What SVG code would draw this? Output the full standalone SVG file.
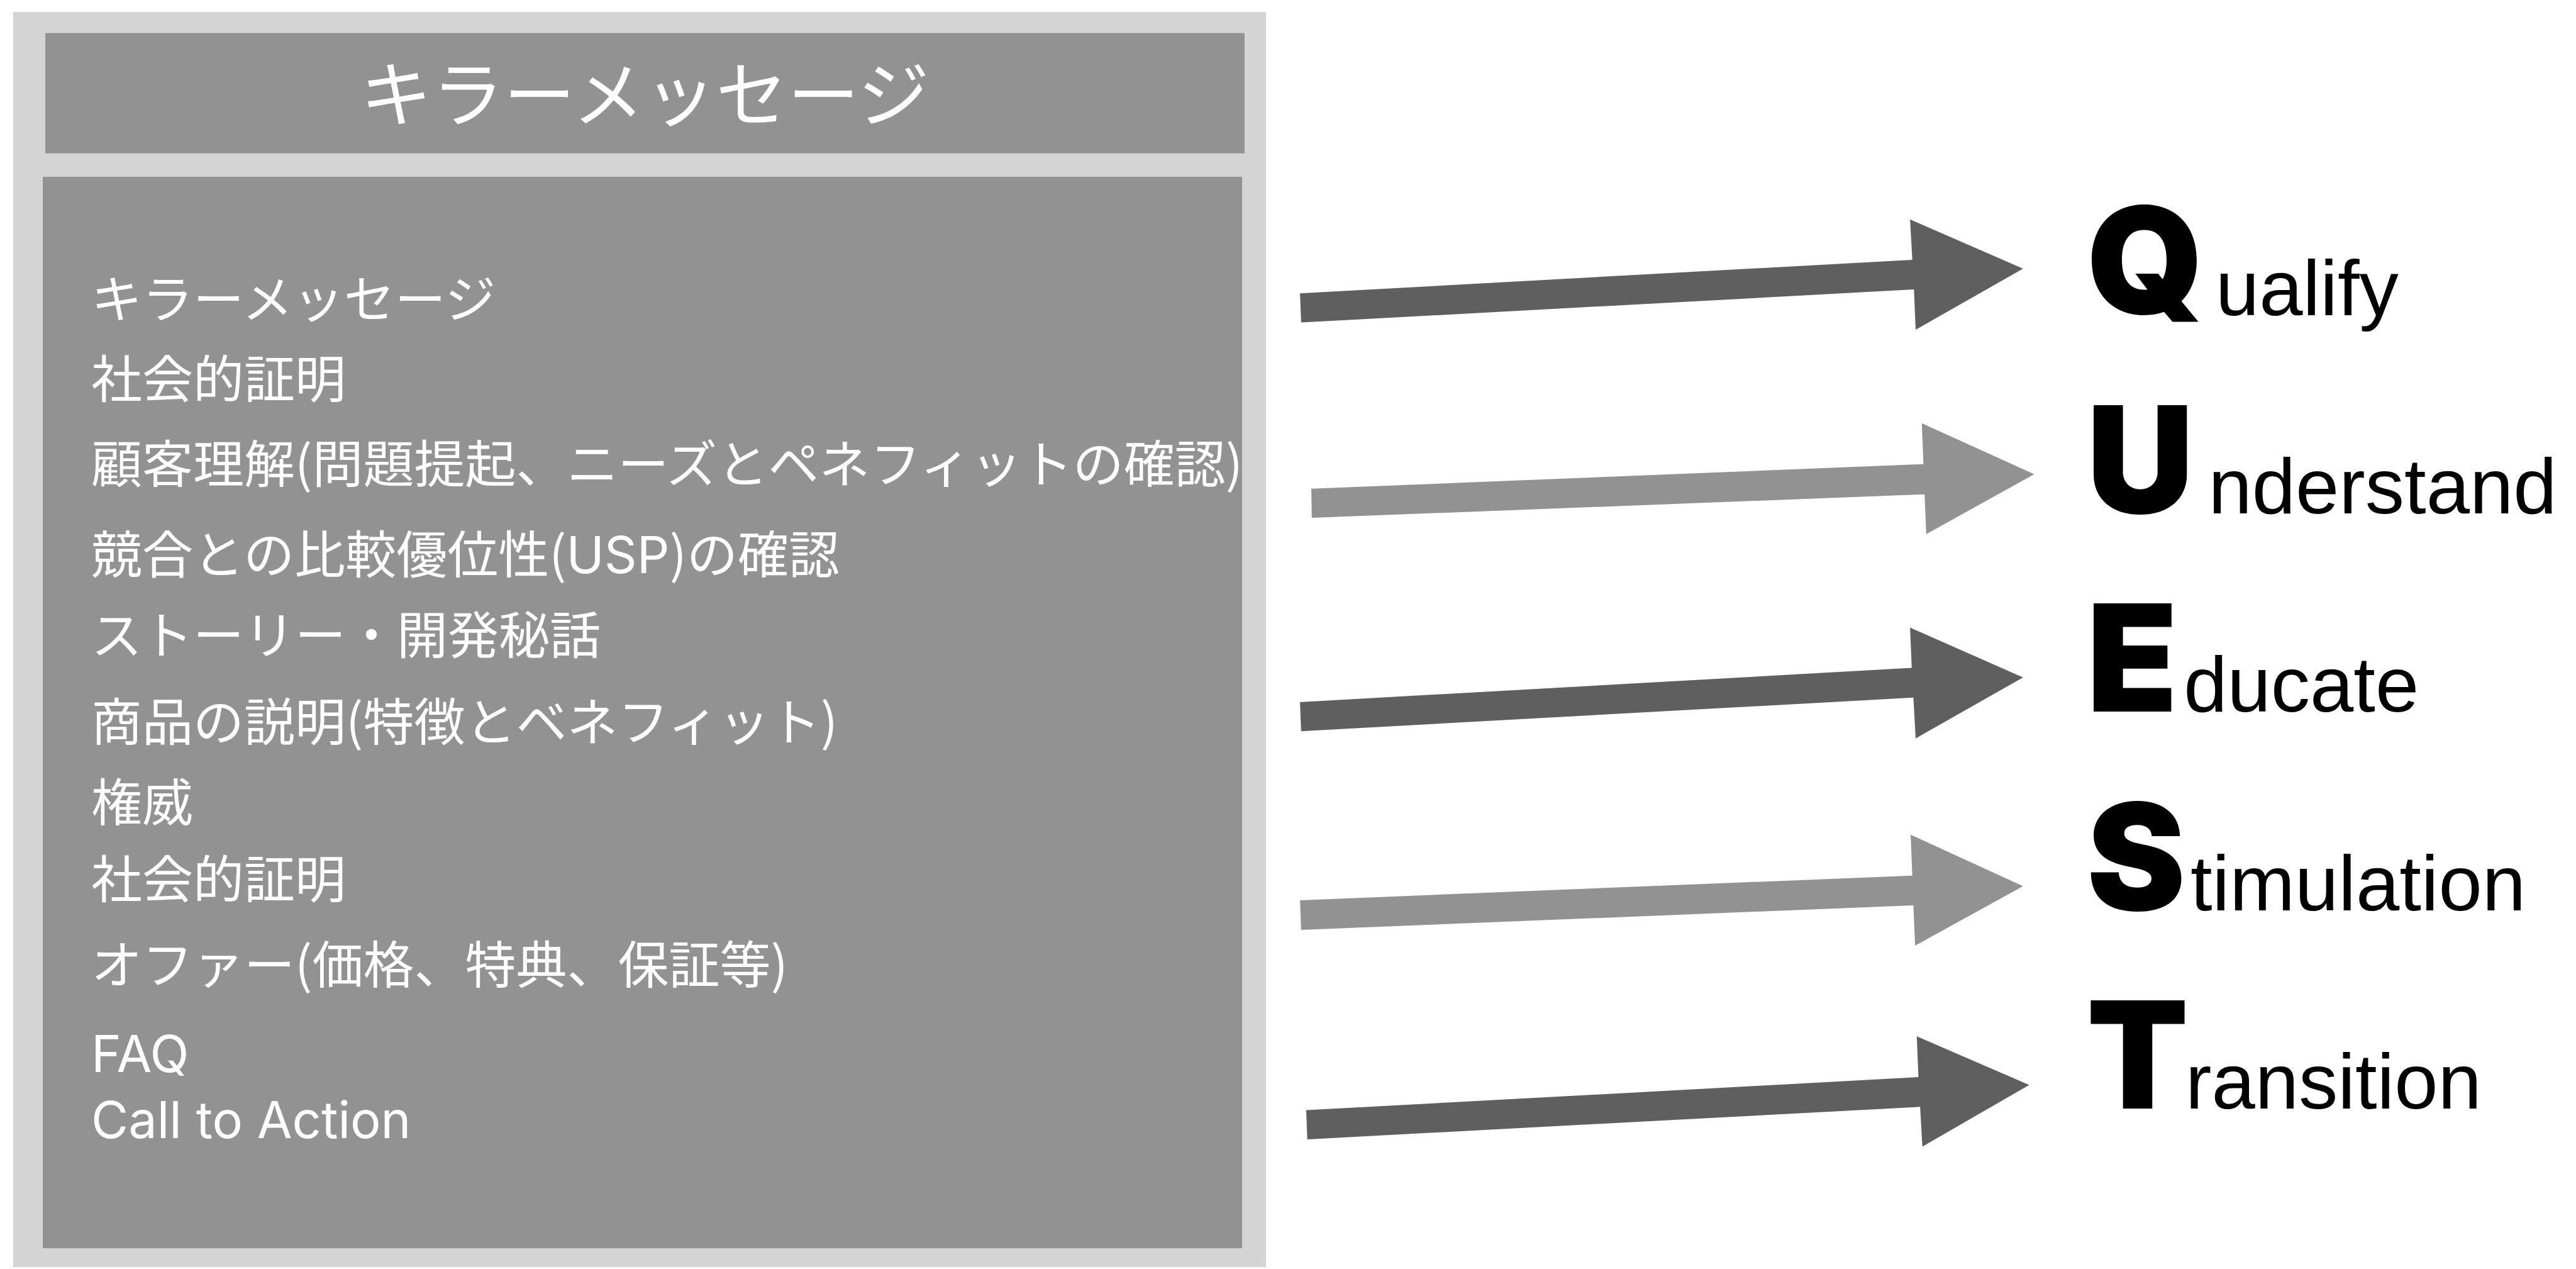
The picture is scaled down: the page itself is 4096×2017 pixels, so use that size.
<svg xmlns="http://www.w3.org/2000/svg" width="4096" height="2017" viewBox="0 0 4096 2017">
<style>
.outer{fill:#d4d4d4}
.panel{fill:#929292}
.title{font-family:"Noto Sans CJK JP",sans-serif;font-size:114px;fill:#ffffff}
.item{font-family:Inter,"Noto Sans CJK JP",sans-serif;font-size:81px;fill:#ffffff}
.par{font-family:"Noto Sans CJK JP",sans-serif}
.big{font-family:Inter,"Liberation Sans",Arial,sans-serif;font-weight:900;font-size:236px;fill:#000000}
.word{font-family:"Liberation Sans",Arial,sans-serif;font-size:124.6px;fill:#000000}
.dark{fill:#5f5f5f}
.light{fill:#929292}
</style>
<rect width="4096" height="2017" fill="#ffffff"/>
<g id="panel">
  <rect class="outer" x="21" y="19" width="1992" height="1995"/>
  <g id="title-node">
    <rect class="panel" x="72" y="52.5" width="1907" height="191.3"/>
    <text class="title" x="1025.3" y="192.2" text-anchor="middle">キラーメッセージ</text>
  </g>
  <g id="list-node">
    <rect class="panel" x="68" y="281" width="1907" height="1703"/>
    <text class="item" x="145" y="505.4">キラーメッセージ</text>
    <text class="item" x="145" y="631.8">社会的証明</text>
    <text class="item" x="145" y="767.1">顧客理解<tspan class="par">(</tspan>問題提起、ニーズとペネフィットの確認<tspan class="par">)</tspan></text>
    <text class="item" x="145" y="911.2">競合との比較優位性<tspan class="par">(</tspan>USP<tspan class="par">)</tspan>の確認</text>
    <text class="item" x="145" y="1039.4">ストーリー・開発秘話</text>
    <text class="item" x="145" y="1177.3">商品の説明<tspan class="par">(</tspan>特徴とベネフィット<tspan class="par">)</tspan></text>
    <text class="item" x="145" y="1305.4">権威</text>
    <text class="item" x="145" y="1426.5">社会的証明</text>
    <text class="item" x="145" y="1562.6">オファー<tspan class="par">(</tspan>価格、特典、保証等<tspan class="par">)</tspan></text>
    <text class="item" x="145" y="1704.1">FAQ</text>
    <text class="item" x="145" y="1809.1">Call to Action</text>
  </g>
</g>
<g id="connectors">
  <polygon class="dark" points="2067.1,466.3 3040.7,412.9 3037.1,348.8 3216.8,427.1 3046.0,524.1 3043.3,460.1 2068.9,512.6"/>
  <polygon class="light" points="2085.0,776.8 3058.4,737.7 3055.8,672.7 3234.6,753.7 3062.9,848.9 3060.2,785.7 2085.8,823.1"/>
  <polygon class="dark" points="2067.1,1115.9 3039.8,1061.6 3037.1,997.5 3216.8,1076.7 3046.0,1173.7 3042.4,1108.8 2068.9,1162.2"/>
  <polygon class="light" points="2067.1,1430.9 3040.7,1391.7 3038.0,1326.8 3216.8,1408.6 3045.1,1503.0 3042.4,1438.9 2068.9,1478.1"/>
  <polygon class="dark" points="2076.9,1764.6 3050.4,1712.1 3047.8,1647.1 3226.6,1724.5 3056.7,1822.4 3053.1,1759.3 2078.7,1810.9"/>
</g>
<g id="q-node">
  <text class="big" x="3318" y="499">Q</text>
  <text class="word" x="3523" y="501">ualify</text>
</g>
<g id="u-node">
  <text class="big" x="3318" y="816">U</text>
  <text class="word" x="3511.4" y="816">nderstand</text>
</g>
<g id="e-node">
  <text class="big" x="3318" y="1131">E</text>
  <text class="word" x="3472.2" y="1131">ducate</text>
</g>
<g id="s-node">
  <text class="big" x="3318" y="1446.5">S</text>
  <text class="word" x="3482.9" y="1446.5">timulation</text>
</g>
<g id="t-node">
  <text class="big" x="3318" y="1762">T</text>
  <text class="word" x="3474.9" y="1762">ransition</text>
</g>
</svg>
